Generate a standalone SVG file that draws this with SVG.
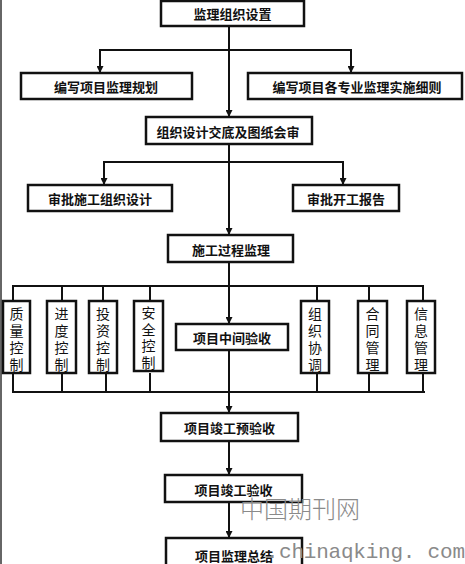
<svg xmlns="http://www.w3.org/2000/svg" width="465" height="564" viewBox="0 0 465 564">
<style>
.box{fill:#fff;stroke:#111;stroke-width:2.5}
.t{font-family:"Noto Sans CJK SC","Liberation Sans",sans-serif;font-size:13px;font-weight:bold;fill:#111;text-anchor:middle;dominant-baseline:central}
.v{font-family:"Noto Sans CJK SC","Liberation Sans",sans-serif;font-size:14px;fill:#111;text-anchor:middle;writing-mode:vertical-rl;letter-spacing:2.7px}
.ln{fill:none;stroke:#111;stroke-width:2}
.ar{fill:none;stroke:#111;stroke-width:2;marker-end:url(#ah)}
.wm{fill:#8a8a8a}
</style>
<defs>
<marker id="ah" viewBox="0 0 8 8" refX="8" refY="4" markerWidth="8" markerHeight="7" markerUnits="userSpaceOnUse" orient="auto">
<path d="M0,0 L8,4 L0,8 z" fill="#111"/>
</marker>
</defs>
<rect x="0" y="0" width="465" height="564" fill="#fff"/>
<rect x="0" y="0" width="2" height="564" fill="#666"/>
<g id="connectors">
<path class="ar" d="M229,26 V117"/>
<path class="ar" d="M229,50 H100 V73"/>
<path class="ar" d="M229,50 H351 V73"/>
<path class="ar" d="M229,144 V235"/>
<path class="ar" d="M229,162 H104 V185"/>
<path class="ar" d="M229,162 H343 V185"/>
<path class="ar" d="M229,262 V324"/>
<path class="ln" d="M13,301 V286 H423 V301 M62,286 V301 M103,286 V301 M150,286 V301 M317,286 V301 M369,286 V301"/>
<path class="ln" d="M13,373 V392 H425 M423,373 V392 M62,373 V392 M106,373 V392 M150,373 V392 M317,373 V392 M369,373 V392"/>
<path class="ar" d="M229,350 V413"/>
<path class="ar" d="M229,441 V475"/>
<path class="ar" d="M229,502 V538"/>
</g>
<g id="n1"><rect class="box" x="161" y="1" width="143" height="25"/><text class="t" x="232.5" y="13.5">监理组织设置</text></g>
<g id="n2"><rect class="box" x="21" y="73" width="171" height="26"/><text class="t" x="106" y="86">编写项目监理规划</text></g>
<g id="n3"><rect class="box" x="248" y="73" width="214" height="26"/><text class="t" x="357" y="86">编写项目各专业监理实施细则</text></g>
<g id="n4"><rect class="box" x="146" y="117" width="166" height="27"/><text class="t" x="228" y="131">组织设计交底及图纸会审</text></g>
<g id="n5"><rect class="box" x="28" y="185" width="144" height="26"/><text class="t" x="100" y="198">审批施工组织设计</text></g>
<g id="n6"><rect class="box" x="293" y="185" width="106" height="26"/><text class="t" x="346" y="198">审批开工报告</text></g>
<g id="n7"><rect class="box" x="168" y="235" width="125" height="27"/><text class="t" x="231" y="249.5">施工过程监理</text></g>
<g id="n8"><rect class="box" x="3" y="301" width="27" height="72"/><text class="v" x="16.5" y="340.5">质量控制</text></g>
<g id="n9"><rect class="box" x="47" y="301" width="29" height="72"/><text class="v" x="61.5" y="340.5">进度控制</text></g>
<g id="n10"><rect class="box" x="89" y="301" width="28" height="72"/><text class="v" x="103" y="340.5">投资控制</text></g>
<g id="n11"><rect class="box" x="134" y="301" width="29" height="70"/><text class="v" x="148.5" y="339">安全控制</text></g>
<g id="n12"><rect class="box" x="176" y="324" width="112" height="26"/><text class="t" x="232" y="337">项目中间验收</text></g>
<g id="n13"><rect class="box" x="301" y="301" width="28" height="72"/><text class="v" x="315" y="340.5">组织协调</text></g>
<g id="n14"><rect class="box" x="358" y="301" width="29" height="72"/><text class="v" x="372.5" y="340.5">合同管理</text></g>
<g id="n15"><rect class="box" x="407" y="301" width="28" height="72"/><text class="v" x="421" y="340.5">信息管理</text></g>
<g id="n16"><rect class="box" x="161" y="413" width="137" height="28"/><text class="t" x="229.5" y="427">项目竣工预验收</text></g>
<g id="n17"><rect class="box" x="165" y="475" width="137" height="27"/><text class="t" x="233.5" y="489">项目竣工验收</text></g>
<g id="n18"><rect class="box" x="166" y="538" width="136" height="32"/><text class="t" x="234" y="555">项目监理总结</text></g>
<g id="watermark">
<text class="wm" x="240" y="507" font-family="'Noto Sans CJK SC',sans-serif" font-size="24" font-weight="300" dominant-baseline="central" textLength="120">中国期刊网</text>
<text class="wm" x="266" y="558" font-family="'Liberation Mono',monospace" font-size="21">.</text>
<text class="wm" x="279" y="558" font-family="'Liberation Mono',monospace" font-size="21" textLength="186">chinaqking. com</text>
</g>
</svg>
